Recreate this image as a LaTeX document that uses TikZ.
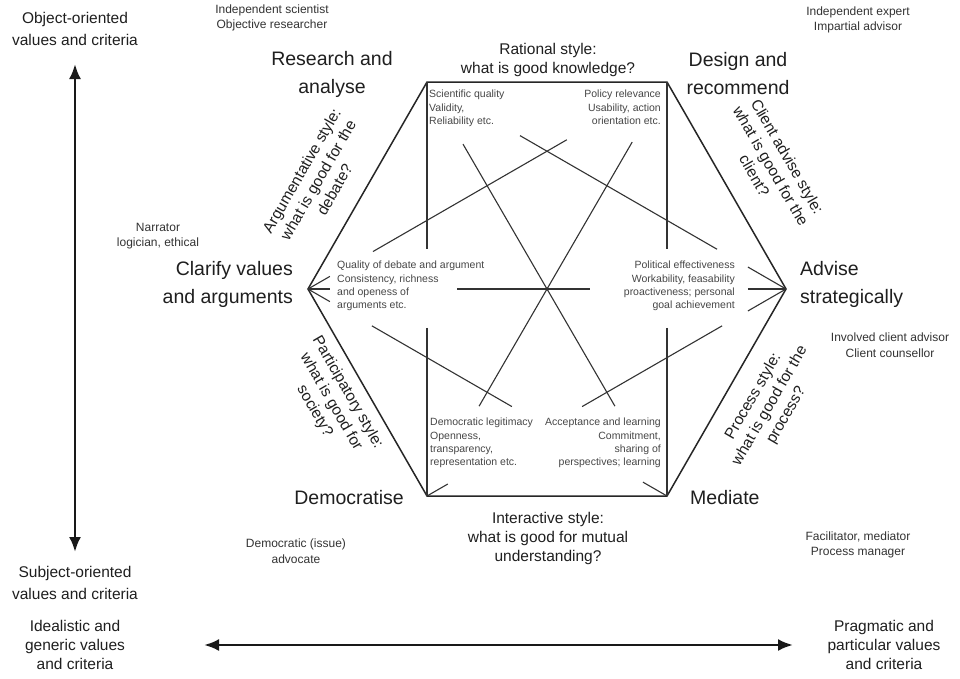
\documentclass[tikz,border=0pt]{standalone}
\usepackage{fontspec}
\setmainfont{Liberation Sans}
\usetikzlibrary{calc,arrows.meta}

\tikzset{
  bigtxt/.style={font=\fontsize{19.5}{28}\selectfont, text=black!88, align=center, inner sep=0pt},
  midtxt/.style={font=\fontsize{15.5}{19}\selectfont, text=black!88, align=center, inner sep=0pt},
  axistxt/.style={font=\fontsize{15.5}{22}\selectfont, text=black!88, align=center, inner sep=0pt},
  roletxt/.style={font=\fontsize{12}{15.5}\selectfont, text=black!80, align=center, inner sep=0pt},
  crittxt/.style={font=\fontsize{10.5}{13.3}\selectfont, text=black!72, inner sep=0pt},
  hexedge/.style={line width=1.5pt, draw=black!85, line join=miter},
  diag/.style={line width=1.1pt, draw=black!80},
  axis/.style={line width=2.6pt, draw=black!90,
    {Latex[length=15pt,width=12pt]}-{Latex[length=15pt,width=12pt]}}
}

\newcommand\diagpart[4]{\draw[diag] ($(#1)!#3!(#2)$) -- ($(#1)!#4!(#2)$);}

\begin{document}
\begin{tikzpicture}[x=1pt,y=-1pt]
\useasboundingbox (0,0) rectangle (960,678);
\fill[white] (0,0) rectangle (960,678);

% corners of the hexagon
\coordinate (V0) at (786,289);
\coordinate (V1) at (667,82);
\coordinate (V2) at (427,82);
\coordinate (V3) at (308,289);
\coordinate (V4) at (427,496);
\coordinate (V5) at (667,496);

\draw[hexedge] (V0) -- (V1) -- (V2) -- (V3) -- (V4) -- (V5) -- cycle;

% diagonals, broken where the criteria texts sit
\diagpart{V3}{V0}{0}{0.046}
\diagpart{V3}{V0}{0.312}{0.590}
\diagpart{V3}{V0}{0.920}{1}
\diagpart{V2}{V5}{0.150}{0.783}
\diagpart{V1}{V4}{0.145}{0.783}
\diagpart{V2}{V4}{0}{0.403}
\diagpart{V2}{V4}{0.594}{1}
\diagpart{V1}{V5}{0}{0.403}
\diagpart{V1}{V5}{0.594}{1}
\diagpart{V2}{V0}{0.259}{0.808}
\diagpart{V2}{V0}{0.894}{1}
\diagpart{V1}{V3}{0.279}{0.819}
\diagpart{V1}{V3}{0.939}{1}
\diagpart{V3}{V5}{0}{0.061}
\diagpart{V3}{V5}{0.178}{0.568}
\diagpart{V3}{V5}{0.933}{1}
\diagpart{V4}{V0}{0}{0.058}
\diagpart{V4}{V0}{0.432}{0.822}
\diagpart{V4}{V0}{0.894}{1}

% criteria inside the hexagon
\node[crittxt, anchor=north west, align=left] (sq) at (429,90)
  {Scientific quality\\Validity,\\Reliability etc.};
\node[crittxt, anchor=north east, align=right] (pr) at (661,90)
  {Policy relevance\\Usability, action\\orientation etc.};
\node[crittxt, anchor=north west, align=left] (qd) at (337,261)
  {Quality of debate and argument\\Consistency, richness\\and openess of\\arguments etc.};
\node[crittxt, anchor=north east, align=right] (pe) at (735,261)
  {Political effectiveness\\Workability, feasability\\proactiveness; personal\\goal achievement};
\node[crittxt, anchor=north west, align=left] (dl) at (430,418)
  {Democratic legitimacy\\Openness,\\transparency,\\representation etc.};
\node[crittxt, anchor=north east, align=right] (al) at (661,418)
  {Acceptance and learning\\Commitment,\\sharing of\\perspectives; learning};

% activities at the corners
\node[bigtxt] (ra) at (332,74) {Research and\\analyse};
\node[bigtxt] (dr) at (738,74) {Design and\\recommend};
\node[bigtxt, align=right, anchor=east] (cv) at (293,284) {Clarify values\\and arguments};
\node[bigtxt, align=left, anchor=west] (as) at (800,284) {Advise\\strategically};
\node[bigtxt, anchor=east] (dm) at (404,498) {Democratise};
\node[bigtxt, anchor=west] (md) at (690,498) {Mediate};

% styles along the sides
\node[midtxt] (rs) at (548,60) {Rational style:\\what is good knowledge?};
\node[midtxt] (is) at (548,538) {Interactive style:\\what is good for mutual\\understanding?};
\node[midtxt, rotate=60] (ags) at (318,180) {Argumentative style:\\what is good for the\\debate?};
\node[midtxt, rotate=-60] (cas) at (771,166) {Client advise style:\\what is good for the\\client?};
\node[midtxt, rotate=-60] (ps) at (331,402) {Participatory style:\\what is good for\\society?};
\node[midtxt, rotate=60] (prs) at (770,406) {Process style:\\what is good for the\\process?};

% roles
\node[roletxt] (r1) at (272,18) {Independent scientist\\Objective researcher};
\node[roletxt] (r2) at (858,20) {Independent expert\\Impartial advisor};
\node[roletxt] (r3) at (158,236) {Narrator\\logician, ethical};
\node[roletxt] (r4) at (890,345) {Involved client advisor\\Client counsellor};
\node[roletxt] (r5) at (296,551) {Democratic (issue)\\advocate};
\node[roletxt] (r6) at (858,545) {Facilitator, mediator\\Process manager};

% value axes
\node[axistxt] (obj) at (75,29) {Object-oriented\\values and criteria};
\node[axistxt] (subj) at (75,583) {Subject-oriented\\values and criteria};
\node[midtxt] (ideal) at (75,645) {Idealistic and\\generic values\\and criteria};
\node[midtxt] (prag) at (884,645) {Pragmatic and\\particular values\\and criteria};

\coordinate (vt) at (75,64);
\coordinate (vb) at (75,552);
\coordinate (hl) at (204,645);
\coordinate (hr) at (793,645);
\draw[axis] (vt) -- (vb);
\draw[axis] (hl) -- (hr);
\end{tikzpicture}
\end{document}
